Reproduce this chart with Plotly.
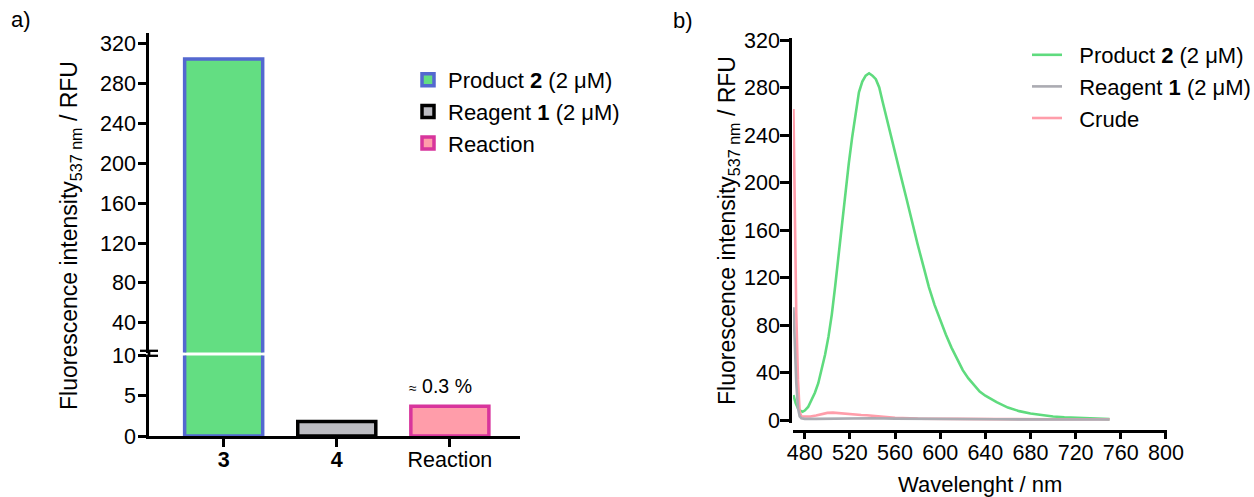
import plotly.graph_objects as go

# ---------------- data ----------------
categories = ["3", "4", "Reaction"]
cat_labels = ["<b>3</b>", "<b>4</b>", "Reaction"]
bar_values = [305, 1.8, 3.7]
bar_names = ["Product <b>2</b> (2 μM)", "Reagent <b>1</b> (2 μM)", "Reaction"]
bar_fill = ["#63DE82", "#BCBCC2", "#FF9DAA"]
bar_line = ["#5468D0", "#000000", "#D8359C"]

lower_ticks = [0, 5, 10]
upper_ticks = [40, 80, 120, 160, 200, 240, 280, 320]

wl_product = [470, 472, 474, 476, 478, 480, 483, 486, 489, 492, 495, 498, 501, 504, 507,
              510, 513, 516, 519, 522, 525, 528, 531, 534, 537, 540, 543, 546, 549, 552,
              556, 560, 565, 570, 575, 580, 585, 590, 595, 600, 605, 610, 615, 620, 625,
              630, 635, 640, 650, 660, 670, 680, 690, 700, 710, 720, 730, 740, 750]
int_product = [21, 14, 10, 8, 7, 8, 11, 17, 23, 31, 42, 55, 70, 89, 113,
               140, 166, 192, 216, 238, 258, 276, 285, 290, 292, 290, 287, 280, 268, 256,
               240, 224, 206, 187, 167, 148, 130, 112, 97, 84, 72, 61, 51, 42, 35,
               29, 24, 20.5, 15, 10.5, 7.5, 5.5, 4, 3, 2.3, 1.8, 1.4, 1.1, 0.8]

wl_crude = [470, 471, 472.5, 474, 475.5, 477, 480, 485, 490, 495, 500, 505, 510, 515, 520,
            525, 530, 535, 540, 550, 560, 580, 600, 650, 700, 750]
int_crude = [262, 188, 90, 34, 7, 3, 2.8, 3, 3.8, 5, 6, 6.2, 5.8, 5, 4.5,
             4.2, 4.2, 4, 3.5, 2.4, 1.8, 1.2, 1, 0.8, 0.7, 0.6]

wl_reagent = [470, 471, 472.5, 474, 475.5, 477, 480, 490, 500, 520, 540, 560, 600, 650, 700, 750]
int_reagent = [95, 62, 31, 10, 3, 1.5, 1, 1, 1.2, 1.5, 1.5, 1.2, 0.8, 0.6, 0.5, 0.5]

spec_x_ticks = [480, 520, 560, 600, 640, 680, 720, 760, 800]
spec_y_ticks = [0, 40, 80, 120, 160, 200, 240, 280, 320]

# ---------------- geometry helpers ----------------
W, H = 1254, 497
def px(x):
    return x / W
def py(y):
    return 1 - y / H

FONT = "Liberation Sans, Arial, sans-serif"
TICKFONT = dict(family=FONT, size=21.5, color="black")
LEGFONT = dict(family=FONT, size=22, color="black")
PAD = "\u00a0\u00a0"

fig = go.Figure()

# ---- panel a: bars on broken axis ----
for i, cat in enumerate(categories):
    for yax, show in (("y", True), ("y2", False)):
        fig.add_trace(go.Bar(
            x=[cat], y=[bar_values[i]], name=bar_names[i],
            xaxis="x", yaxis=yax, width=0.69,
            marker=dict(color=bar_fill[i], line=dict(color=bar_line[i], width=3.5)),
            showlegend=show, legend="legend", legendrank=i + 1,
        ))

# ---- panel b: spectra ----
fig.add_trace(go.Scatter(x=wl_product, y=int_product, mode="lines", name=PAD + "Product <b>2</b> (2 μM)",
                         line=dict(color="#5FDB7E", width=2.6), xaxis="x3", yaxis="y3",
                         legend="legend2", legendrank=1))
fig.add_trace(go.Scatter(x=wl_crude, y=int_crude, mode="lines", name=PAD + "Crude",
                         line=dict(color="#FF9DAA", width=2.6), xaxis="x3", yaxis="y3",
                         legend="legend2", legendrank=3))
fig.add_trace(go.Scatter(x=wl_reagent, y=int_reagent, mode="lines", name=PAD + "Reagent <b>1</b> (2 μM)",
                         line=dict(color="#ABABB2", width=2.6), xaxis="x3", yaxis="y3",
                         legend="legend2", legendrank=2))

axis_common = dict(showline=True, linecolor="black", linewidth=2.7, ticks="outside",
                   tickcolor="black", tickwidth=2.5, showgrid=False, zeroline=False,
                   tickfont=TICKFONT, automargin=False)

fig.update_layout(
    width=W, height=H, autosize=False,
    margin=dict(l=0, r=0, t=0, b=0, autoexpand=False),
    paper_bgcolor="white", plot_bgcolor="white",
    barmode="overlay",
    font=dict(family=FONT, color="black"),
    xaxis=dict(axis_common, domain=[px(149), px(520)], type="category",
               categoryorder="array", categoryarray=categories,
               range=[-0.66, 2.62], tickvals=categories, ticktext=cat_labels,
               ticklen=8, anchor="y", ticklabelstandoff=-6),
    yaxis=dict(axis_common, domain=[py(436), py(355.5)], range=[0, 10],
               tickvals=lower_ticks, ticklen=8, anchor="x", ticklabelstandoff=-2),
    yaxis2=dict(axis_common, domain=[py(352.5), py(33)], range=[10, 331],
                tickvals=upper_ticks, ticklen=8, anchor="x", ticklabelstandoff=-2),
    xaxis3=dict(axis_common, domain=[px(793), px(1166.5)], range=[469.6, 800.5],
                tickvals=spec_x_ticks, ticklen=6, anchor="free", position=py(431),
                ticklabelstandoff=-5),
    yaxis3=dict(axis_common, domain=[py(423), py(38)], range=[-2.5, 321.7],
                tickvals=spec_y_ticks, ticklen=9, anchor="free", position=px(790),
                ticklabelstandoff=-4),
    legend=dict(xref="container", yref="container", x=px(408), y=py(59),
                xanchor="left", yanchor="top", font=LEGFONT,
                bgcolor="rgba(0,0,0,0)", traceorder="normal"),
    legend2=dict(xref="container", yref="container", x=px(1027), y=py(34),
                 xanchor="left", yanchor="top", font=LEGFONT,
                 bgcolor="rgba(0,0,0,0)", traceorder="normal"),
    showlegend=True,
)

annots = [
    dict(text="a)", x=px(9), y=py(19), xanchor="left", yanchor="middle", size=22),
    dict(text="b)", x=px(671), y=py(20), xanchor="left", yanchor="middle", size=22),
    dict(text="Fluorescence intensity<sub>537 nm</sub> / RFU", x=px(70), y=py(236),
         xanchor="center", yanchor="middle", textangle=-90, size=23),
    dict(text="Fluorescence intensity<sub>537 nm</sub> / RFU", x=px(728), y=py(231),
         xanchor="center", yanchor="middle", textangle=-90, size=23),
    dict(text="Wavelenght / nm", x=px(980), y=py(484), xanchor="center", yanchor="middle", size=22),
]
for a in annots:
    size = a.pop("size")
    fig.add_annotation(xref="paper", yref="paper", showarrow=False,
                       font=dict(family=FONT, size=size, color="black"), **a)

fig.add_annotation(xref="x", yref="y", x="Reaction", y=bar_values[2], showarrow=False,
                   text="<span style='font-size:14px'>≈</span> 0.3 %", xshift=-9, yshift=7,
                   yanchor="bottom", font=dict(family=FONT, size=19.5, color="black"))

# axis break mark
for yy in (350.8, 355.8):
    fig.add_shape(type="line", xref="paper", yref="paper", x0=px(140), x1=px(158),
                  y0=py(yy), y1=py(yy), line=dict(color="black", width=2.3))
fig.add_shape(type="line", xref="paper", yref="paper", x0=px(149), x1=px(149),
              y0=py(351), y1=py(357), line=dict(color="black", width=2.7))

fig.write_html("out.html")
